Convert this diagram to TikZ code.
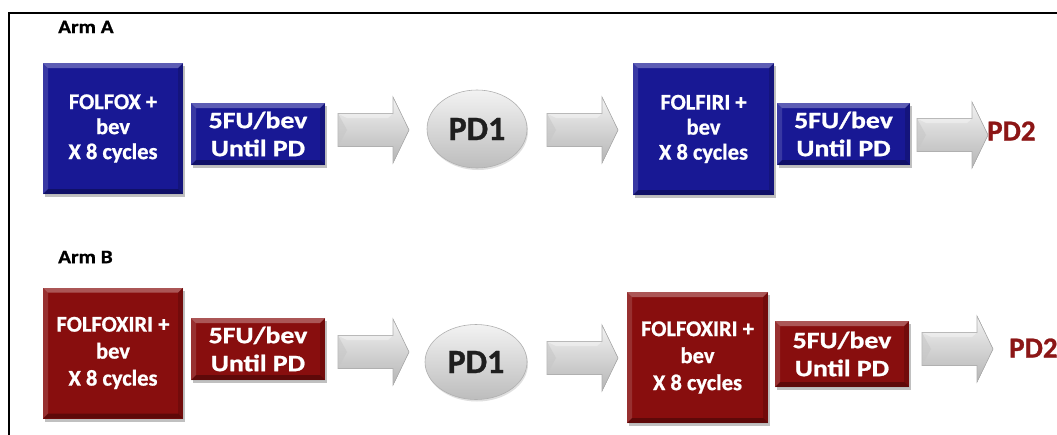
\documentclass[tikz,border=0pt]{standalone}
\usepackage{fontspec}
\usepackage{graphicx}
\setmainfont{Carlito}[BoldFeatures={FakeBold=0.9}]
\usetikzlibrary{shadows,shapes.geometric}

\definecolor{navy}{RGB}{24,24,148}
\definecolor{wine}{RGB}{136,14,14}
\definecolor{pdred}{RGB}{140,22,22}

\newcommand\stretchtxt[1]{\scalebox{1.18}[1]{#1}}

\tikzset{
  x=1pt, y=-1pt,
  bevel/.style={path picture={
    \path (path picture bounding box.north west) coordinate (pnw)
          (path picture bounding box.north east) coordinate (pne)
          (path picture bounding box.south west) coordinate (psw)
          (path picture bounding box.south east) coordinate (pse);
    \fill[white,opacity=.30] (pnw) -- (pne) -- ([shift={(-5pt,-5pt)}]pne) -- ([shift={(5pt,-5pt)}]pnw) -- cycle;
    \fill[white,opacity=.14] (pnw) -- ([shift={(5pt,-5pt)}]pnw) -- ([shift={(5pt,5pt)}]psw) -- (psw) -- cycle;
    \fill[black,opacity=.30] (psw) -- ([shift={(5pt,5pt)}]psw) -- ([shift={(-5pt,5pt)}]pse) -- (pse) -- cycle;
    \fill[black,opacity=.16] (pne) -- (pse) -- ([shift={(-5pt,5pt)}]pse) -- ([shift={(-5pt,-5pt)}]pne) -- cycle;
  }},
  boxshadow/.style={drop shadow={shadow xshift=1.5pt, shadow yshift=-3pt, opacity=.35, fill=black!70}},
  bigbox/.style={rectangle, bevel, boxshadow, inner sep=0pt, text=white, align=center,
    minimum width=140, minimum height=131,
    font=\bfseries\fontsize{22.5}{25}\selectfont},
  smallbox/.style={rectangle, bevel, boxshadow, inner sep=0pt, text=white, align=center,
    minimum width=134, minimum height=62,
    font=\bfseries\fontsize{23.5}{28}\selectfont},
  pdone/.style={ellipse, inner sep=0pt, minimum width=100, minimum height=78,
    top color=gray!10, bottom color=gray!52, draw=gray!62, line width=.6pt,
    drop shadow={shadow xshift=1pt, shadow yshift=-2pt, opacity=.25},
    text=black!88, font=\bfseries\fontsize{34}{36}\selectfont},
  pdtwo/.style={anchor=west, inner sep=0pt, text=pdred,
    font=\bfseries\fontsize{29}{30}\selectfont},
  armlabel/.style={anchor=west, inner sep=0pt, text=black,
    font=\bfseries\fontsize{19}{20}\selectfont},
  blockarr/.pic={
    \fill[top color=gray!10, bottom color=gray!58, draw=gray!62, line width=.6pt]
      (0,-16.5) -- (55,-16.5) -- (55,-33) -- (71,0) -- (55,33) -- (55,16.5) -- (0,16.5) -- cycle;
    \fill[gray!45, opacity=.55] (0,-16.5) -- (9,0) -- (0,16.5) -- cycle;
    \fill[white, opacity=.35] (0,-16.5) -- (55,-16.5) -- (50,-12) -- (9,-12) -- cycle;
  }
}

\begin{document}
\begin{tikzpicture}
  \useasboundingbox (0,0) rectangle (1057,434);
  \fill[white] (0,0) rectangle (1057,434);

  % frame
  \draw[line width=2.3pt] (8.7,436) -- (8.7,12.7) -- (1060,12.7);

  % Arm A
  \node[armlabel] (labA) at (58,27) {\scalebox{1.12}[1]{Arm A}};
  \node[bigbox, fill=navy] (a1) at (113,128.5) {FOLFOX +\\bev\\X 8 cycles};
  \node[smallbox, fill=navy] (a2) at (258,134) {\stretchtxt{5FU/bev}\\\stretchtxt{Until PD}};
  \node[pdone] (a3) at (477,129) {PD1};
  \node[bigbox, fill=navy, minimum width=141, minimum height=132] (a4) at (703.5,129) {FOLFIRI +\\bev\\X 8 cycles};
  \node[smallbox, fill=navy, minimum width=133] (a5) at (843.5,134) {\stretchtxt{5FU/bev}\\\stretchtxt{Until PD}};
  \node[pdtwo] (a6) at (987,131) {PD2};

  \pic (arA1) at (338,130) {blockarr};
  \pic (arA2) at (547,130) {blockarr};
  \pic (arA3) at (917,135) {blockarr};

  % Arm B
  \node[armlabel] (labB) at (58,257) {\scalebox{1.12}[1]{Arm B}};
  \node[bigbox, fill=wine, font=\bfseries\fontsize{22.5}{27}\selectfont] (b1) at (113,353) {FOLFOXIRI +\\bev\\X 8 cycles};
  \node[smallbox, fill=wine] (b2) at (258,349) {\stretchtxt{5FU/bev}\\\stretchtxt{Until PD}};
  \node[pdone, minimum width=102, minimum height=75] (b3) at (476,362) {PD1};
  \node[bigbox, fill=wine, minimum width=141, font=\bfseries\fontsize{22.5}{27}\selectfont] (b4) at (697.5,357.5) {FOLFOXIRI +\\bev\\X 8 cycles};
  \node[smallbox, fill=wine, minimum height=66] (b5) at (842,354) {\stretchtxt{5FU/bev}\\\stretchtxt{Until PD}};
  \node[pdtwo] (b6) at (1009,348) {PD2};

  \pic (arB1) at (338,352) {blockarr};
  \pic (arB2) at (547,358) {blockarr};
  \pic (arB3) at (922,349) {blockarr};
\end{tikzpicture}
\end{document}
